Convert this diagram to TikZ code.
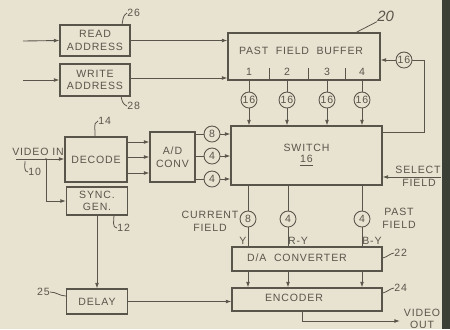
\documentclass[tikz,border=0pt]{standalone}
\usepackage{fontspec}
\setmainfont{Liberation Sans}
\newfontfamily\letfont[LetterSpace=8]{Liberation Sans}
\usetikzlibrary{arrows.meta}
\definecolor{bgc}{HTML}{E8E2D1}
\definecolor{ink}{HTML}{5A554A}
\definecolor{stripc}{HTML}{3C3F36}
\newcommand{\lab}{\letfont\fontsize{6}{7.2}\selectfont}
\tikzset{
  box/.style={draw=ink, line width=0.6pt, inner sep=0pt, align=center, font=\lab, text=ink},
  circ/.style={circle, draw=ink, line width=0.5pt, minimum size=0.32cm, inner sep=0pt, font=\lab, text=ink},
  txt/.style={inner sep=0pt, align=center, font=\lab, text=ink},
  wire/.style={draw=ink, line width=0.5pt},
  arr/.style={wire, -{Latex[length=3.2pt,width=2.2pt]}},
  lead/.style={draw=ink, line width=0.45pt}
}
\begin{document}
\begin{tikzpicture}[x=0.02cm,y=-0.02cm]
\fill[bgc] (0,0) rectangle (450,329);
\useasboundingbox (0,0) rectangle (450,329);
\fill[stripc] (442,0) rectangle (450,329);
% boxes
\node[box, minimum width=1.4cm, minimum height=0.62cm] (rd) at (95,40.5) {READ\\ADDRESS};
\node[box, minimum width=1.4cm, minimum height=0.64cm] (wr) at (95,80) {WRITE\\ADDRESS};
\node[box, minimum width=3.04cm, minimum height=0.94cm] (pfb) at (304,56.5) {};
\node[box, minimum width=3.02cm, minimum height=1.18cm] (sw) at (306.5,155.5) {SWITCH\\[-1pt]\underline{16}};
\node[box, minimum width=3.0cm, minimum height=0.48cm] (da) at (307,259) {};
\node[box, minimum width=3.0cm, minimum height=0.46cm] (enc) at (307,299.5) {};
\node[box, minimum width=1.24cm, minimum height=0.9cm] (dec) at (96,159.5) {DECODE};
\node[box, minimum width=0.9cm, minimum height=1.0cm] (adc) at (172.5,157) {A/D\\CONV};
\node[box, minimum width=1.22cm, minimum height=0.56cm] (sync) at (97,201) {SYNC.\\GEN.};
\node[box, minimum width=1.22cm, minimum height=0.5cm] (dly) at (97,301.5) {DELAY};
% texts inside boxes
\node[txt] (pfbt) at (301,51) {PAST\ \ FIELD\ \ BUFFER};
\node[txt] (n1) at (249,72) {1};
\node[txt] (n2) at (287,72) {2};
\node[txt] (n3) at (327,72) {3};
\node[txt] (n4) at (362,72) {4};
\draw[wire] (269,68) -- (269,80) (308,68) -- (308,80) (345,68) -- (345,80);
\node[txt] (dat) at (297,258) {D/A\ \ CONVERTER};
\node[txt] (enct) at (294,298) {ENCODER};
% circles
\node[circ] (b1) at (249,100) {16};
\node[circ] (b2) at (287,100) {16};
\node[circ] (b3) at (327,100) {16};
\node[circ] (b4) at (362,100) {16};
\node[circ] (fb) at (404,60) {16};
\node[circ] (a1) at (212,134) {8};
\node[circ] (a2) at (212,156) {4};
\node[circ] (a3) at (212,179) {4};
\node[circ] (c1) at (248,219) {8};
\node[circ] (c2) at (288,219) {4};
\node[circ] (c3) at (362,219) {4};
% coordinates
\coordinate (rdin) at (23,41);
\coordinate (wrin) at (23,80);
\coordinate (vin) at (16,159);
\coordinate (j) at (46,159);
\coordinate (sel) at (441,177);
\coordinate (fbr) at (424,60);
\coordinate (vout) at (400,321);
% connectors
\draw[arr] (rdin) -- (rd.west);
\draw[arr] (wrin) -- (wr.west);
\draw[arr] (rd.east) -- (rd.east -| pfb.west);
\draw[arr] ([yshift=0.04cm]wr.east) -- ([yshift=0.04cm]wr.east -| pfb.west);
\foreach \b in {b1,b2,b3,b4}{
  \draw[wire] (\b |- pfb.south) -- (\b);
  \draw[arr] (\b) -- (\b |- sw.north);
}
\draw[wire] ([yshift=0.47cm]sw.east) -| (fbr) -- (fb);
\draw[arr] (fb) -- (fb -| pfb.east);
\foreach \a in {a1,a2,a3}{
  \draw[wire] (\a -| adc.east) -- (\a);
  \draw[arr] (\a) -- (\a -| sw.west);
}
\foreach \s in {0.35,0.05,-0.27}{
  \draw[arr] ([yshift=\s cm]dec.east) -- ([yshift=\s cm]dec.east -| adc.west);
}
\draw[arr] (vin) -- (vin -| dec.west);
\fill[ink] (j) circle (0.9);
\draw[arr] (j) |- (sync.west);
\draw[arr] (sync.south) -- (dly.north);
\draw[arr] (dly.east) -- (dly.east -| enc.west);
\foreach \c in {c1,c2,c3}{
  \draw[wire] (\c |- sw.south) -- (\c);
  \draw[wire] (\c) -- (\c |- da.north);
  \draw[arr] (\c |- da.south) -- (\c |- enc.north);
}
\draw[arr] ([xshift=-0.1cm]enc.south) |- (vout);
\draw[arr] (sel) -- (sel -| sw.east);
% labels
\node[txt] (tvin) at (38,152) {VIDEO IN};
\node[txt] (tsel) at (418,170) {SELECT};
\node[txt] (tfld) at (419,183) {FIELD};
\node[txt] (tcur) at (210,221) {CURRENT\\FIELD};
\node[txt] (tpast) at (399,218) {PAST\\FIELD};
\node[txt] (tvout) at (422,319) {VIDEO\\OUT};
\node[txt] (ty) at (243,241) {Y};
\node[txt] (try) at (298,241) {R-Y};
\node[txt] (tby) at (372,241) {B-Y};
% reference numerals
\node[txt, anchor=west] (l26) at (127,13) {26};
\draw[lead] (122,25) to[out=80,in=210] (l26.west);
\node[txt, anchor=west] (l28) at (127,106) {28};
\draw[lead] (121,96) to[out=-80,in=160] (l28.west);
\node[txt, anchor=west] (l14) at (98,121) {14};
\draw[lead] (95,137) to[out=80,in=200] (l14.west);
\node[txt, anchor=west] (l10) at (28,172) {10};
\draw[lead] (25,161) to[out=-90,in=180] (l10.west);
\node[txt, anchor=west] (l12) at (117,228) {12};
\draw[lead] (114,215) to[out=-90,in=180] (l12.west);
\node[txt, anchor=east] (l25) at (50,292) {25};
\draw[lead] (l25.east) to[out=0,in=180] (dly.west |- 0,296);
\node[txt, anchor=west] (l22) at (394,253) {22};
\draw[lead] (da.east |- 0,258) to[out=10,in=190] (l22.west);
\node[txt, anchor=west] (l24) at (394,288) {24};
\draw[lead] (enc.east |- 0,293) to[out=10,in=190] (l24.west);
\node[inner sep=0pt, text=ink, font=\itshape\fontsize{8.5}{9}\selectfont, anchor=west] (l20) at (377,16) {20};
\draw[lead] (pfb.north -| 356,0) -- (l20.south west);
\end{tikzpicture}
\end{document}
